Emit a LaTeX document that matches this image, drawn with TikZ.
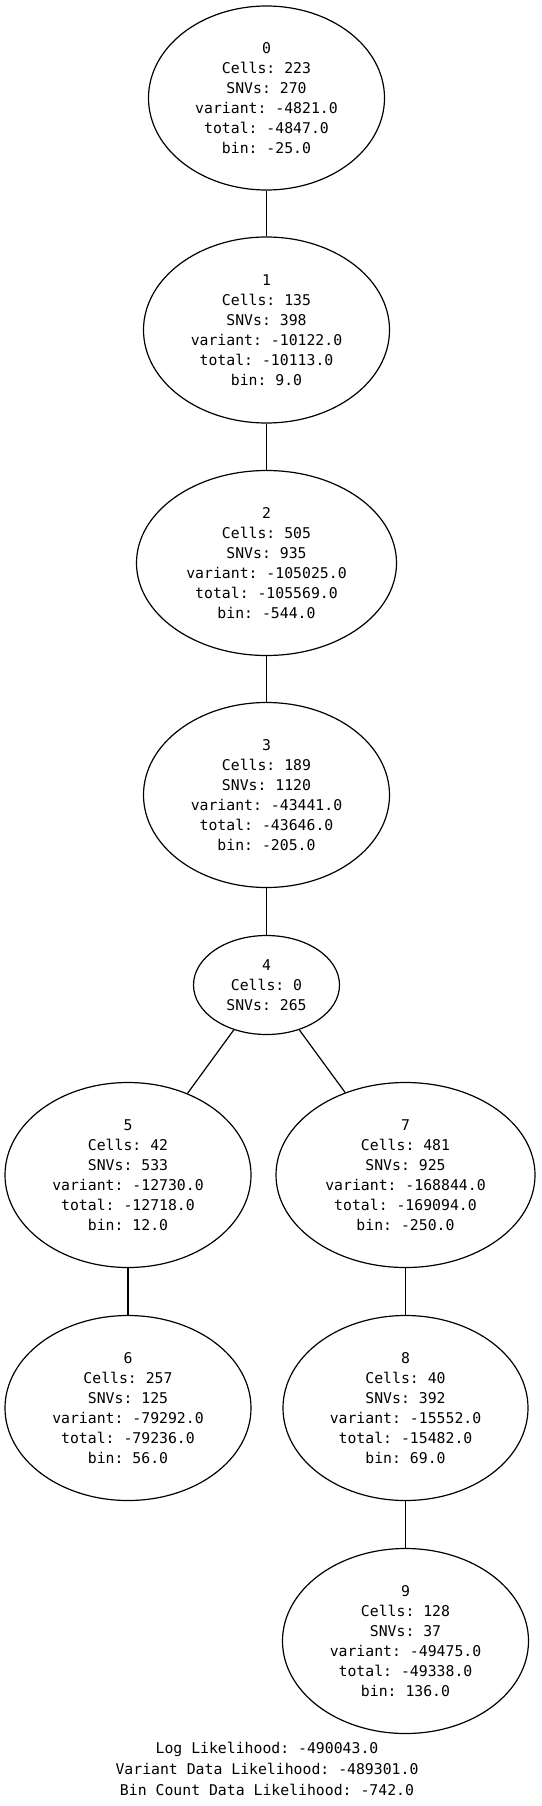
\documentclass[tikz,border=0pt]{standalone}
\usepackage{fontspec}
\setmonofont{DejaVu Sans Mono}
\usetikzlibrary{shapes.geometric}
\tikzset{
  tnode/.style={ellipse, draw, line width=1.2pt, inner sep=0pt, align=center,
    font=\ttfamily\fontsize{14.8}{20}\selectfont},
  tedge/.style={line width=1.2pt},
}
\begin{document}
\begin{tikzpicture}[x=1pt,y=-1pt]
\useasboundingbox (0,0) rectangle (541,1806);
\node[tnode, minimum width=236, minimum height=184] (n0) at (266.5,98) {0\\Cells: 223\\SNVs: 270\\variant: -4821.0\\total: -4847.0\\bin: -25.0};
\node[tnode, minimum width=246, minimum height=186] (n1) at (266.5,330) {1\\Cells: 135\\SNVs: 398\\variant: -10122.0\\total: -10113.0\\bin: 9.0};
\node[tnode, minimum width=260, minimum height=185] (n2) at (266.5,563) {2\\Cells: 505\\SNVs: 935\\variant: -105025.0\\total: -105569.0\\bin: -544.0};
\node[tnode, minimum width=246, minimum height=185] (n3) at (266.5,795) {3\\Cells: 189\\SNVs: 1120\\variant: -43441.0\\total: -43646.0\\bin: -205.0};
\node[tnode, minimum width=146, minimum height=99] (n4) at (266.5,985) {4\\Cells: 0\\SNVs: 265};
\node[tnode, minimum width=246, minimum height=185] (n5) at (128,1175) {5\\Cells: 42\\SNVs: 533\\variant: -12730.0\\total: -12718.0\\bin: 12.0};
\node[tnode, minimum width=259, minimum height=185] (n7) at (405.5,1175) {7\\Cells: 481\\SNVs: 925\\variant: -168844.0\\total: -169094.0\\bin: -250.0};
\node[tnode, minimum width=246, minimum height=185] (n6) at (128,1408) {6\\Cells: 257\\SNVs: 125\\variant: -79292.0\\total: -79236.0\\bin: 56.0};
\node[tnode, minimum width=245, minimum height=185] (n8) at (405.5,1408) {8\\Cells: 40\\SNVs: 392\\variant: -15552.0\\total: -15482.0\\bin: 69.0};
\node[tnode, minimum width=246, minimum height=185] (n9) at (405.5,1641) {9\\Cells: 128\\SNVs: 37\\variant: -49475.0\\total: -49338.0\\bin: 136.0};
\node[align=center, inner sep=0pt, font=\ttfamily\fontsize{14.8}{21}\selectfont] (lbl) at (267,1769) {Log Likelihood: -490043.0\\Variant Data Likelihood: -489301.0\\Bin Count Data Likelihood: -742.0};
\draw[tedge] (n0) -- (n1);
\draw[tedge] (n1) -- (n2);
\draw[tedge] (n2) -- (n3);
\draw[tedge] (n3) -- (n4);
\draw[tedge] (n4) -- (n5);
\draw[tedge] (n4) -- (n7);
\draw[tedge] (n5) -- (n6);
\draw[tedge] (n7) -- (n8);
\draw[tedge] (n8) -- (n9);
\end{tikzpicture}
\end{document}
